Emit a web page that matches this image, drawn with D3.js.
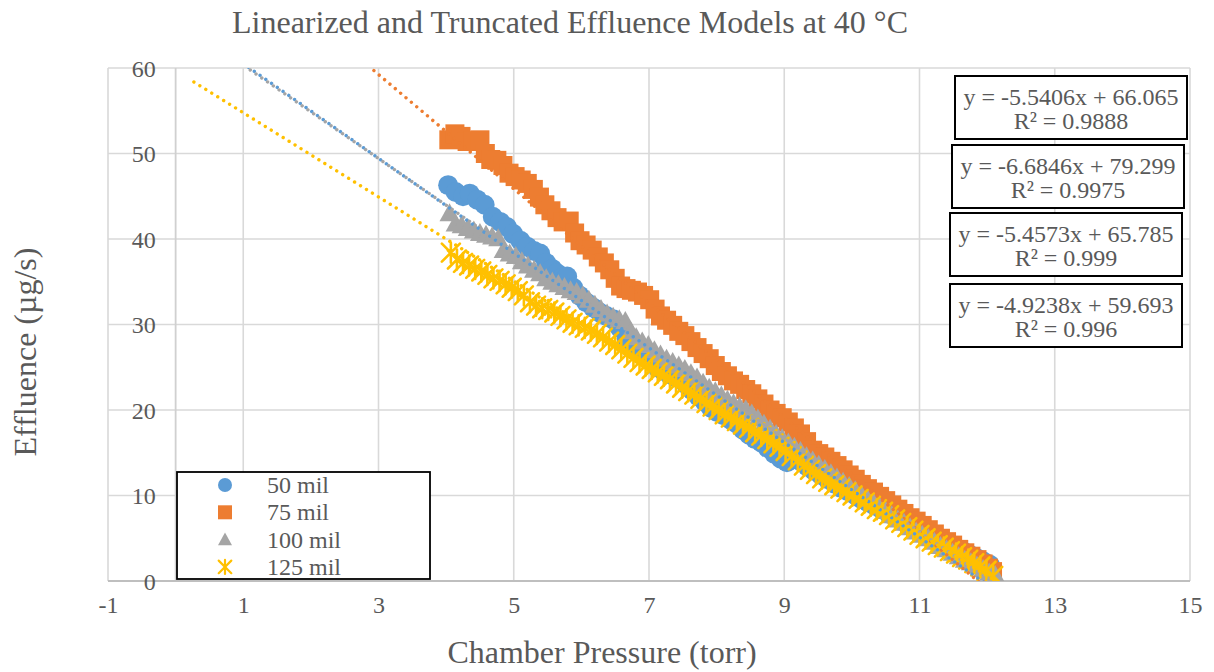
<!DOCTYPE html>
<html>
<head>
<meta charset="utf-8">
<script src="https://cdn.jsdelivr.net/npm/d3@7"></script>
<style>
  html, body { margin: 0; padding: 0; background: #ffffff; }
  svg { display: block; }
  text { font-family: "Liberation Serif", "Times New Roman", serif; fill: #595959; }
</style>
</head>
<body>
<svg id="chart" width="1214" height="672"></svg>
<script>
// ---------------- DATA ----------------
const seriesNames = ["50 mil", "75 mil", "100 mil", "125 mil"];
const seriesColors = ["#5B9BD5", "#ED7D31", "#A5A5A5", "#FFC000"];
const seriesShapes = ["circle", "square", "triangle", "star"];

// 50 mil
const p50 = [4.03,4.14,4.25,4.35,4.46,4.57,4.69,4.80,4.90,4.99,5.10,5.20,5.30,5.39,5.48,5.57,5.64,5.72,5.79,5.88,
  5.97,6.07,6.17,6.27,6.37,6.47,6.57,6.67,6.76,6.85,6.94,7.03,7.12,7.21,7.30,7.38,7.46,7.55,7.64,7.73,
  7.82,7.91,8.00,8.10,8.20,8.30,8.39,8.48,8.57,8.66,8.75,8.85,8.95,9.04,9.14,9.24,9.34,9.44,9.54,9.64,
  9.74,9.84,9.94,10.04,10.14,10.24,10.34,10.44,10.54,10.64,10.74,10.84,10.94,11.04,11.14,11.24,11.34,11.44,11.54,11.64,
  11.74,11.84,11.94,12.04];
const e50 = [46.3,45.5,45.0,45.3,44.6,44.0,42.6,42.0,41.4,40.6,39.8,39.1,38.6,38.3,37.2,36.5,36.0,35.5,35.6,34.3,
  33.4,32.6,32.0,31.4,31.0,30.6,29.6,28.4,27.3,26.7,26.2,25.7,25.0,24.6,24.2,23.9,23.6,23.0,22.3,21.6,
  21.0,20.3,19.8,19.4,18.9,18.4,17.7,17.1,16.6,16.2,15.6,14.9,14.3,13.9,14.5,14.0,13.4,12.9,12.4,11.9,
  11.4,10.9,10.5,10.1,9.6,9.2,8.8,8.4,7.9,7.5,7.0,6.6,6.1,5.7,5.3,4.9,4.5,4.2,3.8,3.5,
  3.1,2.7,2.3,1.9];

// 75 mil
const p75 = [4.04,4.13,4.22,4.31,4.40,4.50,4.58,4.66,4.75,4.84,4.93,5.02,5.11,5.20,5.29,5.38,5.46,5.55,5.64,5.73,
  5.82,5.90,5.98,6.07,6.16,6.25,6.34,6.42,6.50,6.58,6.66,6.74,6.83,6.92,7.01,7.09,7.17,7.26,7.35,7.44,
  7.53,7.62,7.71,7.80,7.89,7.98,8.07,8.16,8.25,8.34,8.43,8.52,8.61,8.70,8.79,8.88,8.97,9.06,9.15,9.24,
  9.33,9.42,9.51,9.60,9.69,9.78,9.87,9.96,10.05,10.14,10.23,10.32,10.41,10.50,10.59,10.68,10.77,10.86,10.95,11.04,
  11.13,11.22,11.31,11.40,11.49,11.58,11.67,11.76,11.85,11.94,12.02,12.08];
const e75 = [51.6,52.3,52.0,51.4,51.5,51.6,50.0,49.3,49.2,48.6,47.7,47.3,46.9,46.5,45.8,44.9,44.0,43.3,42.5,42.0,
  42.1,40.7,39.8,39.3,38.7,37.9,37.2,36.4,35.4,34.5,34.2,34.0,33.8,33.4,32.9,31.8,31.0,30.5,29.9,29.2,
  28.7,28.0,27.3,26.6,26.0,25.2,24.5,24.0,23.4,23.0,22.4,21.9,21.3,20.7,20.0,19.6,19.1,18.6,17.9,17.2,
  16.3,15.3,14.9,14.5,14.0,13.5,13.0,12.4,11.9,11.3,10.8,10.4,9.9,9.4,8.9,8.4,7.9,7.4,7.0,6.5,
  6.0,5.5,5.0,4.6,4.2,3.7,3.3,2.9,2.5,2.0,1.5,1.1];

// 100 mil
const p100 = [4.05,4.14,4.23,4.32,4.41,4.50,4.59,4.68,4.77,4.85,4.94,5.03,5.12,5.21,5.30,5.39,5.48,5.57,5.66,5.75,
  5.84,5.93,6.02,6.11,6.20,6.29,6.38,6.47,6.56,6.65,6.73,6.81,6.90,6.99,7.08,7.17,7.26,7.35,7.44,7.53,
  7.62,7.71,7.80,7.89,7.98,8.07,8.16,8.25,8.34,8.43,8.52,8.61,8.70,8.79,8.88,8.97,9.06,9.15,9.24,9.33,
  9.42,9.51,9.60,9.69,9.78,9.87,9.96,10.05,10.14,10.23,10.32,10.41,10.50,10.59,10.68,10.77,10.86,10.95,11.04,11.13,
  11.22,11.31,11.40,11.49,11.58,11.67,11.76,11.85,11.94,12.03,12.12];
const e100 = [43.0,41.8,41.6,41.3,41.0,40.7,40.5,40.3,40.1,38.7,38.3,38.0,37.4,36.9,36.4,36.0,35.4,35.0,34.7,34.4,
  34.0,33.8,33.4,32.9,32.3,31.8,31.3,30.9,30.6,30.4,29.2,28.5,28.0,27.6,27.0,26.5,26.0,25.6,25.2,24.8,
  24.3,23.8,23.2,22.6,22.2,21.7,21.2,20.8,20.4,20.1,19.6,19.0,18.4,17.8,17.2,16.7,16.2,15.7,15.2,14.6,
  14.1,13.6,13.1,12.6,12.1,11.6,11.1,10.6,10.1,9.6,9.2,8.7,8.2,7.7,7.2,6.8,6.3,5.8,5.4,5.0,
  4.6,4.1,3.7,3.3,2.9,2.5,2.2,1.8,1.4,1.0,0.7];

// 125 mil
const p125 = [4.07,4.16,4.25,4.34,4.43,4.52,4.61,4.70,4.79,4.88,4.97,5.06,5.15,5.24,5.33,5.42,5.51,5.60,5.69,5.78,
  5.87,5.96,6.05,6.14,6.23,6.32,6.41,6.50,6.59,6.68,6.77,6.86,6.95,7.04,7.13,7.22,7.31,7.40,7.49,7.58,
  7.67,7.76,7.85,7.94,8.03,8.12,8.21,8.30,8.39,8.48,8.57,8.66,8.75,8.84,8.93,9.02,9.11,9.20,9.29,9.38,
  9.47,9.56,9.65,9.74,9.83,9.92,10.01,10.10,10.19,10.28,10.37,10.46,10.55,10.64,10.73,10.82,10.91,11.00,11.09,11.18,
  11.27,11.36,11.45,11.54,11.63,11.72,11.81,11.90,11.99,12.09];
const e125 = [38.4,37.6,37.2,36.9,36.5,36.2,35.8,35.4,35.1,34.7,34.3,33.9,33.4,32.6,32.2,31.9,31.7,31.4,31.0,30.6,
  30.2,29.9,29.6,29.3,28.9,28.5,28.0,27.6,27.1,26.6,26.1,25.6,25.2,24.8,24.4,24.0,23.6,23.1,22.6,22.2,
  21.8,21.3,20.8,20.4,20.0,19.5,19.1,18.7,18.3,17.9,17.4,17.0,16.6,16.1,15.7,15.2,14.6,14.1,13.5,13.0,
  12.5,12.0,11.6,11.2,10.8,10.4,10.0,9.6,9.2,8.8,8.4,8.1,7.7,7.2,6.8,6.3,5.9,5.4,5.0,4.6,
  4.2,3.9,3.5,3.2,2.8,2.5,2.1,1.7,1.2,0.6];

// Linear trendlines (slope, intercept, R²)
const trendSlopes = [-5.5406, -6.6846, -5.4573, -4.9238];
const trendIntercepts = [66.065, 79.299, 65.785, 59.693];
const trendR2 = ["0.9888", "0.9975", "0.999", "0.996"];
const trendBackward = 3.8;

// Axis ticks
const xTicks = [-1, 1, 3, 5, 7, 9, 11, 13, 15];
const yTicks = [0, 10, 20, 30, 40, 50, 60];

const titleText = "Linearized and Truncated Effluence Models at 40 \u00B0C";
const xTitle = "Chamber Pressure (torr)";
const yTitle = "Effluence (\u00B5g/s)";

// ---------------- CHART ----------------
const pX = [p50, p75, p100, p125];
const pY = [e50, e75, e100, e125];
const series = seriesNames.map((name, i) => ({
  name, color: seriesColors[i], shape: seriesShapes[i],
  points: pX[i].map((x, j) => ({x, y: pY[i][j]})),
  slope: trendSlopes[i], intercept: trendIntercepts[i], r2: trendR2[i]
}));

const svg = d3.select("#chart");
const plot = {left: 108, right: 1190, top: 68, bottom: 581};
const x = d3.scaleLinear().domain([-1, 15]).range([plot.left, plot.right]);
const y = d3.scaleLinear().domain([0, 60]).range([plot.bottom, plot.top]);

svg.append("defs").append("clipPath").attr("id", "plotclip")
  .append("rect").attr("x", plot.left).attr("y", plot.top)
  .attr("width", plot.right - plot.left).attr("height", plot.bottom - plot.top);

// gridlines
const grid = svg.append("g");
grid.selectAll(".hg").data(yTicks.filter(d => d !== 0)).enter().append("line")
  .attr("x1", plot.left).attr("x2", plot.right)
  .attr("y1", d => y(d)).attr("y2", d => y(d))
  .attr("stroke", "#d9d9d9").attr("stroke-width", 1.6);
grid.selectAll(".vg").data(xTicks).enter().append("line")
  .attr("y1", plot.top).attr("y2", plot.bottom)
  .attr("x1", d => x(d)).attr("x2", d => x(d))
  .attr("stroke", "#d9d9d9").attr("stroke-width", 1.6);

// axis lines (crossing at 0)
svg.append("line").attr("x1", x(0)).attr("x2", x(0)).attr("y1", plot.top).attr("y2", plot.bottom)
  .attr("stroke", "#d0d0d0").attr("stroke-width", 1.8);
svg.append("line").attr("x1", plot.left).attr("x2", plot.right).attr("y1", y(0)).attr("y2", y(0))
  .attr("stroke", "#bfbfbf").attr("stroke-width", 2.2);

// tick labels using d3 axes
const fmt = d => String(d);
const yAxis = d3.axisLeft(y).tickValues(yTicks).tickSize(0).tickPadding(0).tickFormat(fmt);
const yg = svg.append("g").attr("transform", `translate(${x(0) - 20},0)`).call(yAxis);
yg.attr("font-family", null).attr("font-size", null);
yg.select(".domain").remove();
yg.selectAll("text").style("font-family", '"Liberation Serif", "Times New Roman", serif')
  .style("font-size", "24px").attr("fill", "#595959").attr("dy", "0.34em");

const xAxis = d3.axisBottom(x).tickValues(xTicks).tickSize(0).tickPadding(0).tickFormat(fmt);
const xg = svg.append("g").attr("transform", `translate(0,${y(0) + 20})`).call(xAxis);
xg.attr("font-family", null).attr("font-size", null);
xg.select(".domain").remove();
xg.selectAll("text").style("font-family", '"Liberation Serif", "Times New Roman", serif')
  .style("font-size", "24px").attr("fill", "#595959").attr("dy", "0.5em");

// marker drawing
function markerPath(shape, s) {
  const h = s / 2;
  if (shape === "circle") return d3.symbol(d3.symbolCircle, Math.PI * h * h)();
  if (shape === "square") return `M${-h},${-h}H${h}V${h}H${-h}Z`;
  if (shape === "triangle") return `M0,${-h}L${h},${h * 0.8}L${-h},${h * 0.8}Z`;
  // star (asterisk)
  const k = h * 0.9;
  return `M${-k},${-k}L${k},${k}M${-k},${k}L${k},${-k}M0,${-h}L0,${h}`;
}
function drawMarker(g, shape, color, s, sw) {
  const p = g.append("path").attr("d", markerPath(shape, s));
  if (shape === "star") p.attr("fill", "none").attr("stroke", color).attr("stroke-width", sw || 2.6).attr("stroke-linecap", "round");
  else p.attr("fill", color);
  return p;
}

const marks = svg.append("g").attr("clip-path", "url(#plotclip)");
const sizes = {circle: 20, square: 19, triangle: 20, star: 20};
series.forEach(s => {
  const g = marks.append("g");
  s.points.forEach(pt => {
    const mg = g.append("g").attr("transform", `translate(${x(pt.x)},${y(pt.y)})`);
    drawMarker(mg, s.shape, s.color, sizes[s.shape]);
  });
});

// trendlines on top
const trends = svg.append("g").attr("clip-path", "url(#plotclip)");
series.forEach(s => {
  const x0 = d3.min(s.points, d => d.x) - trendBackward;
  const x1 = d3.max(s.points, d => d.x);
  const line = d3.line().x(d => x(d)).y(d => y(s.slope * d + s.intercept));
  trends.append("path").attr("d", line([x0, x1]))
    .attr("fill", "none").attr("stroke", s.color).attr("stroke-width", 3.4)
    .attr("stroke-linecap", "round").attr("stroke-dasharray", "0.01 7");
});

// equation boxes
const boxes = [
  {x: 955, y: 76}, {x: 952, y: 145}, {x: 950, y: 213}, {x: 950, y: 284}
];
series.forEach((s, i) => {
  const b = boxes[i];
  const w = 232, h = 63;
  const g = svg.append("g");
  g.append("rect").attr("x", b.x).attr("y", b.y).attr("width", w).attr("height", h)
    .attr("fill", "#ffffff").attr("stroke", "#000000").attr("stroke-width", 2);
  const sign = s.intercept >= 0 ? "+" : "-";
  g.append("text").attr("x", b.x + w / 2).attr("y", b.y + 29).attr("text-anchor", "middle")
    .style("font-size", "24px").text(`y = ${s.slope}x ${sign} ${Math.abs(s.intercept)}`);
  g.append("text").attr("x", b.x + w / 2).attr("y", b.y + 53).attr("text-anchor", "middle")
    .style("font-size", "24px").text(`R\u00B2 = ${s.r2}`);
});

// legend
const lg = svg.append("g");
lg.append("rect").attr("x", 177).attr("y", 472).attr("width", 253).attr("height", 107)
  .attr("fill", "#ffffff").attr("stroke", "#000000").attr("stroke-width", 1.8);
series.forEach((s, i) => {
  const cy = 485 + i * 27.3;
  const mg = lg.append("g").attr("transform", `translate(225,${cy})`);
  drawMarker(mg, s.shape, s.color, 14, 2.2);
  lg.append("text").attr("x", 267).attr("y", cy).attr("dy", "0.34em")
    .style("font-size", "24px").text(s.name);
});

// titles
svg.append("text").attr("x", 570).attr("y", 33).attr("text-anchor", "middle")
  .style("font-size", "32px").text(titleText);
svg.append("text").attr("x", 602).attr("y", 663).attr("text-anchor", "middle")
  .style("font-size", "32px").text(xTitle);
svg.append("text").attr("transform", "translate(36,352) rotate(-90)").attr("text-anchor", "middle")
  .style("font-size", "32px").text(yTitle);
</script>
</body>
</html>
